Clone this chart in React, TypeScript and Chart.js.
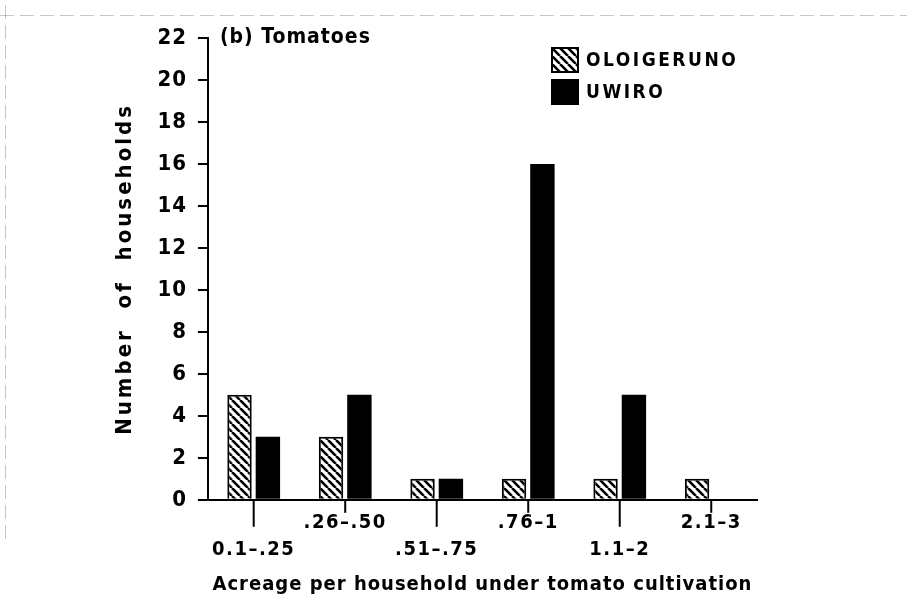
import React, { useEffect, useRef } from "react";
import { Chart, registerables, CategoryScale, LinearScale } from "chart.js";

Chart.register(...registerables);

// ---- data ----
const categories = ["0.1–.25", ".26–.50", ".51–.75", ".76–1", "1.1–2", "2.1–3"];
const seriesNames = ["OLOIGERUNO", "UWIRO"];
const oloigeruno = [5, 3, 1, 1, 1, 1];
const uwiro = [3, 5, 1, 16, 5, 0];
const yMax = 22;
const yStep = 2;
const panelTitle = "(b) Tomatoes";
const xTitle = "Acreage per household under tomato cultivation";
const yTitle = "Number  of  households";

const FONT = "'DejaVu Sans Condensed', 'DejaVu Sans', sans-serif";

// letter spacing per axis (style only)
const spacing: Record<string, { title: string; ticks: string }> = {
  x: { title: "1px", ticks: "1.5px" },
  y: { title: "3px", ticks: "1px" },
};

class SpacedCategory extends CategoryScale {
  static id = "spacedCategory";
  drawTitle() {
    const ctx: any = (this as any).ctx;
    ctx.save();
    ctx.letterSpacing = spacing[(this as any).id]?.title || "0px";
    super.drawTitle();
    ctx.restore();
  }
  drawLabels(area: any) {
    const ctx: any = (this as any).ctx;
    ctx.save();
    ctx.letterSpacing = spacing[(this as any).id]?.ticks || "0px";
    super.drawLabels(area);
    ctx.restore();
  }
}

class SpacedLinear extends LinearScale {
  static id = "spacedLinear";
  drawTitle() {
    const ctx: any = (this as any).ctx;
    ctx.save();
    ctx.letterSpacing = spacing[(this as any).id]?.title || "0px";
    super.drawTitle();
    ctx.restore();
  }
  drawLabels(area: any) {
    const ctx: any = (this as any).ctx;
    ctx.save();
    ctx.letterSpacing = spacing[(this as any).id]?.ticks || "0px";
    super.drawLabels(area);
    ctx.restore();
  }
}

Chart.register(SpacedCategory as any, SpacedLinear as any);

function makeHatch(): CanvasPattern | string {
  const s = 8;
  const c = document.createElement("canvas");
  c.width = s;
  c.height = s;
  const g = c.getContext("2d");
  if (!g) return "#fff";
  g.fillStyle = "#fff";
  g.fillRect(0, 0, s, s);
  g.strokeStyle = "#000";
  g.lineWidth = 2.6;
  for (let i = -1; i <= 1; i++) {
    g.beginPath();
    g.moveTo(i * s, 0);
    g.lineTo(i * s + s, s);
    g.stroke();
  }
  const p = g.createPattern(c, "repeat");
  return p || "#fff";
}

const xTickPlugin = {
  id: "xTickMarks",
  afterDraw(chart: any) {
    const { ctx, chartArea } = chart;
    const x = chart.scales.x;
    ctx.save();
    ctx.strokeStyle = "#000";
    ctx.lineWidth = 2;
    categories.forEach((_, i) => {
      const px = x.getPixelForValue(i);
      const len = i % 2 === 0 ? 27 : 13;
      ctx.beginPath();
      ctx.moveTo(px, chartArea.bottom);
      ctx.lineTo(px, chartArea.bottom + len);
      ctx.stroke();
    });
    ctx.restore();
  },
};

const decorPlugin = {
  id: "decor",
  afterDraw(chart: any) {
    const { ctx, chartArea } = chart;
    ctx.save();
    // faint scan edges
    ctx.strokeStyle = "rgba(0,0,0,0.22)";
    ctx.lineWidth = 1;
    ctx.setLineDash([14, 6]);
    ctx.beginPath();
    ctx.moveTo(0, 15.5);
    ctx.lineTo(907, 15.5);
    ctx.moveTo(5.5, 5);
    ctx.lineTo(5.5, 540);
    ctx.stroke();
    ctx.setLineDash([]);

    // panel title
    ctx.fillStyle = "#000";
    ctx.letterSpacing = "1px";
    ctx.font = `bold 21px ${FONT}`;
    ctx.textBaseline = "middle";
    ctx.textAlign = "left";
    ctx.fillText(panelTitle, chartArea.left + 12, 38);

    // legend
    const ds = chart.data.datasets;
    const bx = 552;
    const rows = [48, 80];
    ds.forEach((d: any, i: number) => {
      const by = rows[i];
      ctx.fillStyle = d.backgroundColor;
      ctx.fillRect(bx, by, 26, 24);
      ctx.strokeStyle = "#000";
      ctx.lineWidth = 2;
      ctx.strokeRect(bx, by, 26, 24);
      ctx.fillStyle = "#000";
      ctx.letterSpacing = "2.5px";
      ctx.font = `bold 19px ${FONT}`;
      ctx.textBaseline = "middle";
      ctx.fillText(d.label, bx + 34, by + 13);
    });
    ctx.restore();
  },
};

export default function App() {
  const ref = useRef<HTMLCanvasElement | null>(null);

  useEffect(() => {
    if (!ref.current) return;
    const hatch = makeHatch();
    const chart = new Chart(ref.current, {
      type: "bar",
      data: {
        labels: categories,
        datasets: [
          {
            label: seriesNames[0],
            data: oloigeruno,
            backgroundColor: hatch as any,
            borderColor: "#000",
            borderWidth: 2,
            categoryPercentage: 0.62,
            barPercentage: 0.86,
          },
          {
            label: seriesNames[1],
            data: uwiro,
            backgroundColor: "#000",
            borderColor: "#000",
            borderWidth: 0,
            categoryPercentage: 0.62,
            barPercentage: 0.86,
          },
        ],
      },
      options: {
        animation: false,
        responsive: false,
        maintainAspectRatio: false,
        layout: { padding: { left: 0, right: 150, top: 38, bottom: 0 } },
        plugins: {
          legend: { display: false },
          tooltip: { enabled: false },
          title: { display: false },
        },
        scales: {
          x: {
            type: "spacedCategory" as any,
            grid: { drawOnChartArea: false, drawTicks: false, offset: false },
            border: { display: true, color: "#000", width: 2 },
            ticks: {
              color: "#000",
              padding: 10,
              maxRotation: 0,
              autoSkip: false,
              font: { family: FONT, size: 20, weight: "bold", lineHeight: 1.33 },
              callback: (_v: any, i: number) =>
                i % 2 === 0 ? ["", categories[i]] : categories[i],
            },
            title: {
              display: true,
              text: xTitle,
              color: "#000",
              font: { family: FONT, size: 20, weight: "bold", lineHeight: 1.2 },
              padding: { top: 0, bottom: 5 },
            },
          },
          y: {
            type: "spacedLinear" as any,
            min: 0,
            max: yMax,
            grid: {
              drawOnChartArea: false,
              drawTicks: true,
              tickLength: 10,
              color: "#000",
              lineWidth: 2,
            },
            border: { display: true, color: "#000", width: 2 },
            ticks: {
              stepSize: yStep,
              color: "#000",
              padding: 11,
              font: { family: FONT, size: 22, weight: "bold" },
            },
            title: {
              display: true,
              text: yTitle,
              color: "#000",
              font: { family: FONT, size: 22, weight: "bold", lineHeight: 1.2 },
              padding: { top: 112, bottom: 10 },
            },
          },
        },
      },
      plugins: [xTickPlugin, decorPlugin],
    });
    return () => chart.destroy();
  }, []);

  return (
    <div style={{ position: "fixed", left: 0, top: 0, width: 907, height: 602, background: "#fff" }}>
      <canvas ref={ref} width={907} height={602} style={{ width: 907, height: 602 }} />
    </div>
  );
}
